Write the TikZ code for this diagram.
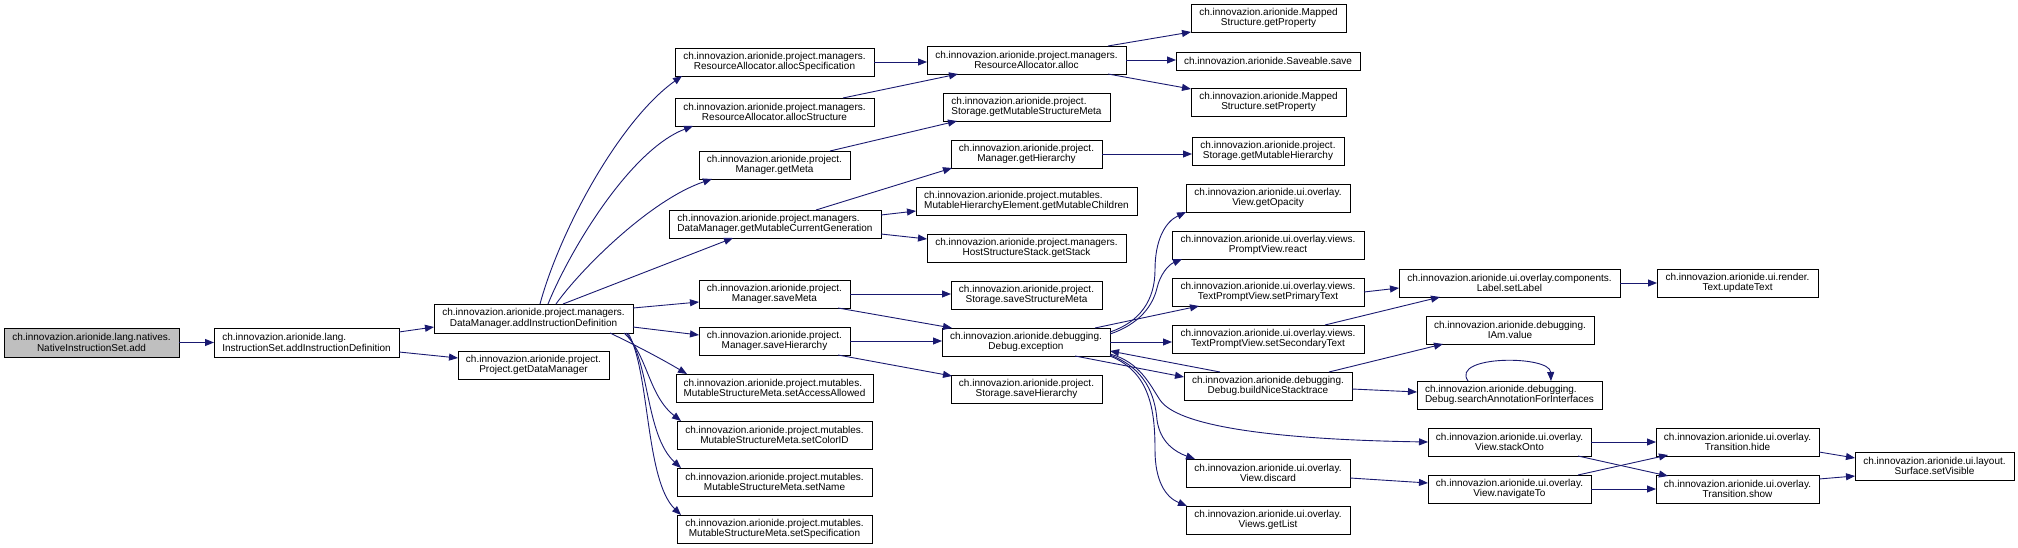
\documentclass[tikz,border=0pt]{standalone}
\usepackage{fontspec}
\setmainfont{Liberation Sans}
\usetikzlibrary{arrows.meta}
\definecolor{edgeblue}{RGB}{25,25,112}
\definecolor{rootgray}{RGB}{191,191,191}
\newsavebox\tlA
\newsavebox\tlB
\newcommand\twoline[2]{\sbox\tlA{#1}\sbox\tlB{#2}\ifdim\wd\tlA<\wd\tlB\makebox[\wd\tlB][l]{\usebox\tlA}\else\usebox\tlA\fi\\#2}
\begin{document}
\begin{tikzpicture}[x=1pt,y=-1pt,
  box/.style={draw=black,line width=0.9pt,fill=white,inner sep=0pt,outer sep=0pt,align=center,
    minimum height=28pt,font=\fontsize{10pt}{10.5pt}\selectfont},
  conn/.style={draw=edgeblue,line width=0.9pt,-{Triangle[length=9pt,width=7pt]}}]
\useasboundingbox (0,0) rectangle (2018,548);
% column 1-2
\node[box,fill=rootgray,minimum width=175pt,minimum height=29pt] (nA) at (91.5,342.5) {\twoline{ch.innovazion.arionide.lang.natives.}{NativeInstructionSet.add}};
\node[box,minimum width=185pt,minimum height=29pt] (nB) at (306.5,342.5) {\twoline{ch.innovazion.arionide.lang.}{InstructionSet.addInstructionDefinition}};
\node[box,minimum width=199pt,minimum height=29pt] (nC) at (533.5,318.5) {\twoline{ch.innovazion.arionide.project.managers.}{DataManager.addInstructionDefinition}};
\node[box,minimum width=151pt] (nD) at (533.5,365) {\twoline{ch.innovazion.arionide.project.}{Project.getDataManager}};
% column 3
\node[box,minimum width=199pt] (nAS) at (774.5,62) {\twoline{ch.innovazion.arionide.project.managers.}{ResourceAllocator.allocSpecification}};
\node[box,minimum width=199pt] (nAT) at (774.5,112) {\twoline{ch.innovazion.arionide.project.managers.}{ResourceAllocator.allocStructure}};
\node[box,minimum width=151pt] (nGM) at (774.5,165) {\twoline{ch.innovazion.arionide.project.}{Manager.getMeta}};
\node[box,minimum width=212pt] (nGG) at (775,224) {\twoline{ch.innovazion.arionide.project.managers.}{DataManager.getMutableCurrentGeneration}};
\node[box,minimum width=151pt] (nSM) at (774.5,294) {\twoline{ch.innovazion.arionide.project.}{Manager.saveMeta}};
\node[box,minimum width=151pt] (nSH) at (774.5,341) {\twoline{ch.innovazion.arionide.project.}{Manager.saveHierarchy}};
\node[box,minimum width=197pt] (nSA) at (774.5,388) {\twoline{ch.innovazion.arionide.project.mutables.}{MutableStructureMeta.setAccessAllowed}};
\node[box,minimum width=195pt] (nSC) at (774.5,435) {\twoline{ch.innovazion.arionide.project.mutables.}{MutableStructureMeta.setColorID}};
\node[box,minimum width=195pt] (nSN) at (774.5,482) {\twoline{ch.innovazion.arionide.project.mutables.}{MutableStructureMeta.setName}};
\node[box,minimum width=195pt] (nSS) at (774.5,529) {\twoline{ch.innovazion.arionide.project.mutables.}{MutableStructureMeta.setSpecification}};
% column 4
\node[box,minimum width=199pt] (nAL) at (1026.5,60) {\twoline{ch.innovazion.arionide.project.managers.}{ResourceAllocator.alloc}};
\node[box,minimum width=167pt] (nGSM) at (1026.5,107) {\twoline{ch.innovazion.arionide.project.}{Storage.getMutableStructureMeta}};
\node[box,minimum width=151pt] (nGH) at (1026.5,154) {\twoline{ch.innovazion.arionide.project.}{Manager.getHierarchy}};
\node[box,minimum width=221pt] (nGC) at (1026.5,201) {\twoline{ch.innovazion.arionide.project.mutables.}{MutableHierarchyElement.getMutableChildren}};
\node[box,minimum width=199pt] (nGS) at (1026.5,248) {\twoline{ch.innovazion.arionide.project.managers.}{HostStructureStack.getStack}};
\node[box,minimum width=151pt] (nSSM) at (1026.5,295) {\twoline{ch.innovazion.arionide.project.}{Storage.saveStructureMeta}};
\node[box,minimum width=168pt] (nDE) at (1026,342) {\twoline{ch.innovazion.arionide.debugging.}{Debug.exception}};
\node[box,minimum width=151pt] (nSTH) at (1026.5,389) {\twoline{ch.innovazion.arionide.project.}{Storage.saveHierarchy}};
% column 5
\node[box,minimum width=155pt] (nGP) at (1268.5,18) {\twoline{ch.innovazion.arionide.Mapped}{Structure.getProperty}};
\node[box,minimum width=184pt,minimum height=18pt] (nSV) at (1268,61) {ch.innovazion.arionide.Saveable.save};
\node[box,minimum width=155pt] (nSP) at (1268.5,102) {\twoline{ch.innovazion.arionide.Mapped}{Structure.setProperty}};
\node[box,minimum width=152pt] (nGMH) at (1268,151) {\twoline{ch.innovazion.arionide.project.}{Storage.getMutableHierarchy}};
\node[box,minimum width=164pt] (nGO) at (1268,198) {\twoline{ch.innovazion.arionide.ui.overlay.}{View.getOpacity}};
\node[box,minimum width=192pt] (nRE) at (1268,245) {\twoline{ch.innovazion.arionide.ui.overlay.views.}{PromptView.react}};
\node[box,minimum width=192pt] (nPT) at (1268,292) {\twoline{ch.innovazion.arionide.ui.overlay.views.}{TextPromptView.setPrimaryText}};
\node[box,minimum width=192pt] (nST) at (1268,339) {\twoline{ch.innovazion.arionide.ui.overlay.views.}{TextPromptView.setSecondaryText}};
\node[box,minimum width=168pt] (nBN) at (1268,386) {\twoline{ch.innovazion.arionide.debugging.}{Debug.buildNiceStacktrace}};
\node[box,minimum width=164pt] (nDI) at (1268,473) {\twoline{ch.innovazion.arionide.ui.overlay.}{View.discard}};
\node[box,minimum width=164pt] (nGL) at (1268,520) {\twoline{ch.innovazion.arionide.ui.overlay.}{Views.getList}};
% column 6-8
\node[box,minimum width=221pt] (nLB) at (1509.5,283) {\twoline{ch.innovazion.arionide.ui.overlay.components.}{Label.setLabel}};
\node[box,minimum width=161pt] (nUT) at (1737.5,283) {\twoline{ch.innovazion.arionide.ui.render.}{Text.updateText}};
\node[box,minimum width=168pt] (nIA) at (1510,330) {\twoline{ch.innovazion.arionide.debugging.}{IAm.value}};
\node[box,minimum width=185pt] (nSE) at (1509.5,395) {\twoline{ch.innovazion.arionide.debugging.}{Debug.searchAnnotationForInterfaces}};
\node[box,minimum width=163pt] (nSO) at (1509.5,442) {\twoline{ch.innovazion.arionide.ui.overlay.}{View.stackOnto}};
\node[box,minimum width=163pt] (nNT) at (1509.5,489) {\twoline{ch.innovazion.arionide.ui.overlay.}{View.navigateTo}};
\node[box,minimum width=163pt] (nHI) at (1737.5,442) {\twoline{ch.innovazion.arionide.ui.overlay.}{Transition.hide}};
\node[box,minimum width=163pt] (nSW) at (1737.5,489) {\twoline{ch.innovazion.arionide.ui.overlay.}{Transition.show}};
\node[box,minimum width=159pt] (nVS) at (1934.5,466) {\twoline{ch.innovazion.arionide.ui.layout.}{Surface.setVisible}};
% edges
\draw[conn] (nA.east) -- (nB.west);
\draw[conn] ([shift={(185,4)}]nB.north west) -- ([shift={(0,23)}]nC.north west);
\draw[conn] ([shift={(185,24)}]nB.north west) -- ([shift={(0,7)}]nD.north west);
\draw[conn] ([shift={(106,0)}]nC.north west) .. controls (560,230) and (620,120) .. ([shift={(7,28)}]nAS.north west);
\draw[conn] ([shift={(114,0)}]nC.north west) .. controls (570,250) and (630,150) .. ([shift={(18,28)}]nAT.north west);
\draw[conn] ([shift={(122,0)}]nC.north west) .. controls (580,270) and (650,200) .. ([shift={(13,28)}]nGM.north west);
\draw[conn] ([shift={(129,0)}]nC.north west) -- ([shift={(64,28)}]nGG.north west);
\draw[conn] ([shift={(199,4)}]nC.north west) -- ([shift={(0,22)}]nSM.north west);
\draw[conn] ([shift={(199,23)}]nC.north west) -- ([shift={(0,8)}]nSH.north west);
\draw[conn] ([shift={(176,29)}]nC.north west) .. controls (635,345) and (660,358) .. ([shift={(11,0)}]nSA.north west);
\draw[conn] ([shift={(190,29)}]nC.north west) .. controls (648,355) and (648,395) .. ([shift={(4,0)}]nSC.north west);
\draw[conn] ([shift={(192,29)}]nC.north west) .. controls (650,360) and (645,435) .. ([shift={(4,0)}]nSN.north west);
\draw[conn] ([shift={(194,29)}]nC.north west) .. controls (650,370) and (645,480) .. ([shift={(4,0)}]nSS.north west);
\draw[conn] (nAS.east) -- (nAS.east -| nAL.west);
\draw[conn] ([shift={(168,0)}]nAT.north west) -- ([shift={(31,28)}]nAL.north west);
\draw[conn] ([shift={(181,0)}]nAL.north west) -- ([shift={(0,28)}]nGP.north west);
\draw[conn] (nAL.east) -- (nAL.east -| nSV.west);
\draw[conn] ([shift={(181,28)}]nAL.north west) -- ([shift={(0,1)}]nSP.north west);
\draw[conn] ([shift={(131,0)}]nGM.north west) -- ([shift={(14,28)}]nGSM.north west);
\draw[conn] ([shift={(147,0)}]nGG.north west) -- ([shift={(1,28)}]nGH.north west);
\draw[conn] ([shift={(212,5)}]nGG.north west) -- ([shift={(0,24)}]nGC.north west);
\draw[conn] ([shift={(212,24)}]nGG.north west) -- ([shift={(0,5)}]nGS.north west);
\draw[conn] (nGH.east) -- (nGH.east -| nGMH.west);
\draw[conn] (nSM.east) -- (nSM.east -| nSSM.west);
\draw[conn] ([shift={(139,28)}]nSM.north west) -- ([shift={(10,0)}]nDE.north west);
\draw[conn] (nSH.east) -- (nSH.east -| nDE.west);
\draw[conn] ([shift={(139,28)}]nSH.north west) -- ([shift={(1,1)}]nSTH.north west);
\draw[conn] ([shift={(153,0)}]nDE.north west) -- ([shift={(27,28)}]nPT.north west);
\draw[conn] (nDE.east) -- (nDE.east -| nST.west);
\draw[conn] ([shift={(133,28)}]nDE.north west) -- ([shift={(0,5)}]nBN.north west);
\draw[conn] ([shift={(36,0)}]nBN.north west) -- ([shift={(168,23)}]nDE.north west);
\draw[conn] ([shift={(168,4)}]nDE.north west) .. controls (1140,322) and (1155,300) .. (1155,270) .. controls (1155,240) and (1165,222) .. ([shift={(0,28)}]nGO.north west);
\draw[conn] ([shift={(168,6)}]nDE.north west) .. controls (1140,324) and (1153,305) .. (1157,288) .. controls (1160,275) and (1168,265) .. ([shift={(10,28)}]nRE.north west);
\draw[conn] ([shift={(168,26)}]nDE.north west) .. controls (1140,362) and (1150,385) .. (1160,400) .. controls (1180,430) and (1300,440) .. (nSO.west);
\draw[conn] ([shift={(168,27)}]nDE.north west) .. controls (1145,368) and (1155,395) .. (1157,420) .. controls (1160,442) and (1175,452) .. ([shift={(9,0)}]nDI.north west);
\draw[conn] ([shift={(168,28)}]nDE.north west) .. controls (1150,372) and (1155,410) .. (1155,450) .. controls (1155,480) and (1165,497) .. ([shift={(1,0)}]nGL.north west);
\draw[conn] ([shift={(145,0)}]nBN.north west) -- ([shift={(17,28)}]nIA.north west);
\draw[conn] ([shift={(168,17)}]nBN.north west) -- ([shift={(0,11)}]nSE.north west);
\draw[conn] ([shift={(51,0)}]nSE.north west) .. controls (1450,355) and (1550,355) .. ([shift={(134,0)}]nSE.north west);
\draw[conn] (nPT.east) -- ([shift={(0,19)}]nLB.north west);
\draw[conn] ([shift={(153,0)}]nST.north west) -- ([shift={(41,28)}]nLB.north west);
\draw[conn] (nLB.east) -- (nUT.west);
\draw[conn] ([shift={(164,19)}]nDI.north west) -- ([shift={(0,8)}]nNT.north west);
\draw[conn] (nSO.east) -- (nHI.west);
\draw[conn] ([shift={(150,28)}]nSO.north west) -- ([shift={(12,1)}]nSW.north west);
\draw[conn] ([shift={(150,0)}]nNT.north west) -- ([shift={(12,27)}]nHI.north west);
\draw[conn] (nNT.east) -- (nSW.west);
\draw[conn] ([shift={(163,24)}]nHI.north west) -- ([shift={(0,6)}]nVS.north west);
\draw[conn] ([shift={(163,4)}]nSW.north west) -- ([shift={(0,24)}]nVS.north west);
\end{tikzpicture}
\end{document}
